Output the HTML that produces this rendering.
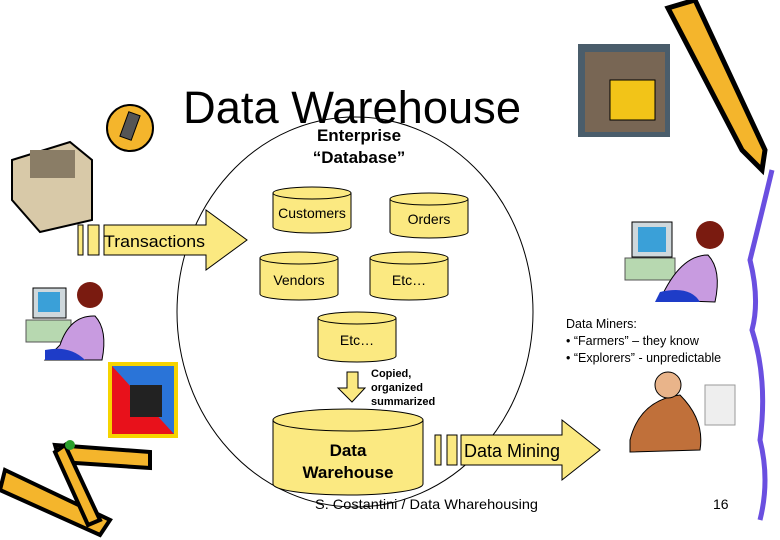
<!DOCTYPE html>
<html><head><meta charset="utf-8"><style>
html,body{margin:0;padding:0;background:#fff}
svg{display:block}
text{font-family:"Liberation Sans",sans-serif}
</style></head><body>
<svg width="780" height="540" viewBox="0 0 780 540" xmlns="http://www.w3.org/2000/svg">
<rect width="780" height="540" fill="#fff"/>
<ellipse cx="355" cy="312" rx="178" ry="195" fill="none" stroke="#000" stroke-width="1"/>

<text x="183" y="123" font-size="45" font-family="DejaVu Sans, sans-serif" font-weight="200" textLength="338" lengthAdjust="spacingAndGlyphs">Data Warehouse</text>
<text x="359" y="141" font-size="17" font-weight="bold" text-anchor="middle">Enterprise</text>
<text x="359" y="163" font-size="17" font-weight="bold" text-anchor="middle">“Database”</text>

<g fill="#fbe981" stroke="#000" stroke-width="1">
<path d="M273 193 V227 A39 6 0 0 0 351 227 V193"/><ellipse cx="312" cy="193" rx="39" ry="6"/>
<path d="M390 199 V232 A39 6 0 0 0 468 232 V199"/><ellipse cx="429" cy="199" rx="39" ry="6"/>
<path d="M260 258 V294 A39 6 0 0 0 338 294 V258"/><ellipse cx="299" cy="258" rx="39" ry="6"/>
<path d="M370 258 V294 A39 6 0 0 0 448 294 V258"/><ellipse cx="409" cy="258" rx="39" ry="6"/>
<path d="M318 318 V356 A39 6 0 0 0 396 356 V318"/><ellipse cx="357" cy="318" rx="39" ry="6"/>
<path d="M273 420 V484 A75 11 0 0 0 423 484 V420"/><ellipse cx="348" cy="420" rx="75" ry="11"/>
<path d="M347 372 H358 V388 H365 L352 402 L338 388 H347 Z"/>
<rect x="78" y="225" width="5" height="30"/><rect x="88" y="225" width="11" height="30"/>
<path d="M104 225 H206 V210 L247 240 L206 270 V255 H104 Z"/>
<rect x="435" y="435" width="6" height="30"/><rect x="447" y="435" width="10" height="30"/>
<path d="M461 435 H562 V420 L600 450 L562 480 V465 H461 Z"/>
</g>

<g font-size="14" text-anchor="middle" fill="#000">
<text x="312" y="218">Customers</text>
<text x="429" y="224">Orders</text>
<text x="299" y="285">Vendors</text>
<text x="409" y="285">Etc…</text>
<text x="357" y="345">Etc…</text>
</g>
<text x="104" y="247" font-size="17" textLength="101" lengthAdjust="spacingAndGlyphs">Transactions</text>
<text x="464" y="457" font-size="18" textLength="96" lengthAdjust="spacingAndGlyphs">Data Mining</text>
<text x="348" y="456" font-size="17" font-weight="bold" text-anchor="middle">Data</text>
<text x="348" y="478" font-size="17" font-weight="bold" text-anchor="middle">Warehouse</text>
<g font-size="11" font-weight="bold"><text x="371" y="377">Copied,</text><text x="371" y="391">organized</text><text x="371" y="405">summarized</text></g>

<g font-size="12.5"><text x="566" y="328">Data Miners:</text><text x="566" y="345">• “Farmers” – they know</text><text x="566" y="362">• “Explorers” - unpredictable</text></g>

<text x="315" y="509" font-size="14" font-family="DejaVu Sans, sans-serif" textLength="223" lengthAdjust="spacingAndGlyphs">S. Costantini / Data Wharehousing</text>
<text x="713" y="509" font-size="14">16</text>

<circle cx="130" cy="128" r="23" fill="#f4b52c" stroke="#000" stroke-width="2"/>
<rect x="124" y="113" width="12" height="26" fill="#555" stroke="#000" transform="rotate(20 130 126)"/>
<path d="M12 160 L70 142 L92 160 L92 220 L40 232 L12 200 Z" fill="#d8c9a8" stroke="#000" stroke-width="2"/>
<rect x="30" y="150" width="45" height="28" fill="#8a7d66"/>
<rect x="33" y="288" width="33" height="30" fill="#cfd8dc" stroke="#000"/><rect x="38" y="292" width="22" height="20" fill="#3aa0d8"/>
<rect x="26" y="320" width="45" height="22" fill="#b7d8b0" stroke="#555"/>
<circle cx="90" cy="295" r="13" fill="#7a1b10"/>
<path d="M60 345 Q70 315 95 316 Q108 330 102 360 L45 360 Z" fill="#c89be0" stroke="#000"/>
<path d="M45 350 Q70 345 85 360 L45 360 Z" fill="#1e3cc8"/>
<rect x="108" y="362" width="70" height="76" fill="#f6d400"/>
<rect x="112" y="366" width="62" height="68" fill="#e8111b"/>
<path d="M112 366 H174 V434 Z" fill="#2a74d8"/>
<rect x="130" y="385" width="32" height="32" fill="#222"/>
<path d="M5 470 L110 520 L100 535 L0 490 Z" fill="#f4b52c" stroke="#000" stroke-width="4"/>
<path d="M55 445 L150 452 L150 468 L60 462 Z" fill="#f4b52c" stroke="#000" stroke-width="4"/>
<path d="M65 445 L100 520 L88 525 L55 452 Z" fill="#f4b52c" stroke="#000" stroke-width="4"/>
<circle cx="70" cy="445" r="5" fill="#2ca02c"/>
<rect x="578" y="44" width="92" height="93" fill="#4a5d6b"/>
<rect x="585" y="52" width="80" height="80" fill="#8b6b4a" opacity="0.7"/>
<rect x="610" y="80" width="45" height="40" fill="#f2c418" stroke="#000"/>
<path d="M668 8 L695 0 L765 150 L762 170 L742 150 Z" fill="#f4b52c" stroke="#000" stroke-width="5"/>
<path d="M772 170 Q760 220 750 260 Q760 300 752 330 Q768 380 760 440 Q770 480 760 520" fill="none" stroke="#6a4fe0" stroke-width="5"/>
<rect x="632" y="222" width="40" height="35" fill="#cfd8dc" stroke="#000"/><rect x="638" y="227" width="28" height="25" fill="#3aa0d8"/>
<rect x="625" y="258" width="50" height="22" fill="#b7d8b0" stroke="#555"/>
<circle cx="710" cy="235" r="14" fill="#7a1b10"/>
<path d="M660 300 Q680 255 708 255 Q722 270 715 302 Z" fill="#c89be0" stroke="#000"/>
<path d="M660 292 Q690 285 700 302 L655 302 Z" fill="#1e3cc8"/>
<path d="M630 440 Q640 400 680 395 Q705 420 700 450 L630 452 Z" fill="#c0703a" stroke="#000"/>
<circle cx="668" cy="385" r="13" fill="#e9b48a" stroke="#000"/>
<rect x="705" y="385" width="30" height="40" fill="#eee" stroke="#999"/>
</svg>
</body></html>
